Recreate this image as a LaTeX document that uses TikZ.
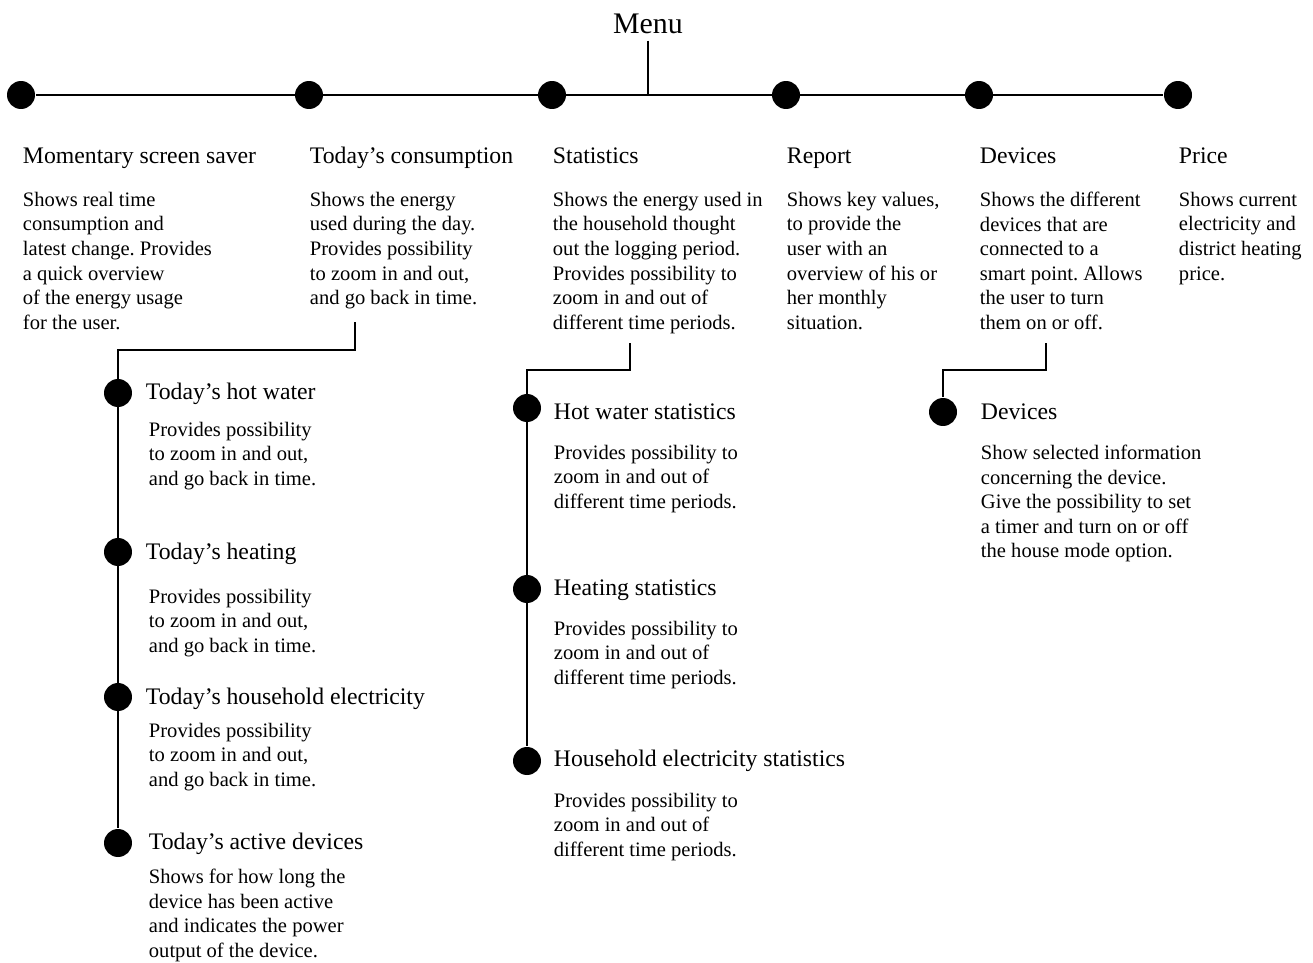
\documentclass[tikz,border=0pt]{standalone}
\usepackage{fontspec}
\setmainfont{Liberation Serif}
\frenchspacing
\begin{document}
\begin{tikzpicture}[x=0.02cm, y=-0.02cm, line width=1.1pt,
        dot/.style={circle, fill, inner sep=0pt, minimum size=0.56cm},
        title/.style={anchor=base west, inner sep=0pt, font=\fontsize{13.5}{16}\selectfont},
        body/.style={anchor=north west, inner sep=0pt, align=left, font=\fontsize{11.7}{14}\selectfont}]
        \useasboundingbox (0, 0) rectangle (1313, 963);
        \node [font=\fontsize{17}{20}\selectfont] (menu) at (648, 24) {Menu};
        \node [dot] (d1) at (21, 95) {};
        \node [dot] (d2) at (309, 95) {};
        \node [dot] (d3) at (552, 95) {};
        \node [dot] (d4) at (786, 95) {};
        \node [dot] (d5) at (979, 95) {};
        \node [dot] (d6) at (1178, 95) {};
        \draw (d1) -- (d6);
        \draw (menu) -- (menu |- d1);
        \node [title] (t1) at (22, 164) {Momentary screen saver};
        \node [title] (t2) at (309, 164) {Today’s consumption};
        \node [title] (t3) at (552, 164) {Statistics};
        \node [title] (t4) at (786, 164) {Report};
        \node [title] (t5) at (979, 164) {Devices};
        \node [title] (t6) at (1178, 164) {Price};
        \node [body] (b1) at (22, 191) {Shows real time\\consumption and\\latest change. Provides\\a quick overview\\of the energy usage\\for the user.};
        \node [body] (b2) at (309, 191) {Shows the energy\\used during the day.\\Provides possibility\\to zoom in and out,\\and go back in time.};
        \node [body] (b3) at (552, 191) {Shows the energy used in\\the household thought\\out the logging period.\\Provides possibility to\\zoom in and out of\\different time periods.};
        \node [body] (b4) at (786, 191) {Shows key values,\\to provide the\\user with an\\overview of his or\\her monthly\\situation.};
        \node [body] (b5) at (979, 191) {Shows the different\\devices that are\\connected to a\\smart point. Allows\\the user to turn\\them on or off.};
        \node [body] (b6) at (1178, 191) {Shows current\\electricity and\\district heating\\price.};
        \node [dot] (l1) at (118, 393) {};
        \node [dot] (l2) at (118, 552) {};
        \node [dot] (l3) at (118, 697) {};
        \node [dot] (l4) at (118, 843) {};
        \coordinate (s2) at (355, 322);
        \draw (s2) -- (355, 350) -| (l4);
        \node [title] (lt1) at (145, 399) {Today’s hot water};
        \node [title] (lt2) at (145, 559) {Today’s heating};
        \node [title] (lt3) at (145, 704) {Today’s household electricity};
        \node [title] (lt4) at (148, 849) {Today’s active devices};
        \node [body] (lb1) at (148, 421) {Provides possibility\\to zoom in and out,\\and go back in time.};
        \node [body] (lb2) at (148, 588) {Provides possibility\\to zoom in and out,\\and go back in time.};
        \node [body] (lb3) at (148, 722) {Provides possibility\\to zoom in and out,\\and go back in time.};
        \node [body] (lb4) at (148, 868) {Shows for how long the\\device has been active\\and indicates the power\\output of the device.};
        \node [dot] (m1) at (527, 408) {};
        \node [dot] (m2) at (527, 589) {};
        \node [dot] (m3) at (527, 761) {};
        \coordinate (s3) at (630, 343);
        \draw (s3) -- (630, 370) -| (m3);
        \node [title] (mt1) at (553, 419) {Hot water statistics};
        \node [title] (mt2) at (553, 595) {Heating statistics};
        \node [title] (mt3) at (553, 766) {Household electricity statistics};
        \node [body] (mb1) at (553, 444) {Provides possibility to\\zoom in and out of\\different time periods.};
        \node [body] (mb2) at (553, 620) {Provides possibility to\\zoom in and out of\\different time periods.};
        \node [body] (mb3) at (553, 792) {Provides possibility to\\zoom in and out of\\different time periods.};
        \node [dot] (r1) at (943, 412) {};
        \coordinate (s5) at (1046, 343);
        \draw (s5) -- (1046, 370) -| (r1);
        \node [title] (rt1) at (980, 419) {Devices};
        \node [body] (rb1) at (980, 444) {Show selected information\\concerning the device.\\Give the possibility to set\\a timer and turn on or off\\the house mode option.};
    \end{tikzpicture}
\end{document}
